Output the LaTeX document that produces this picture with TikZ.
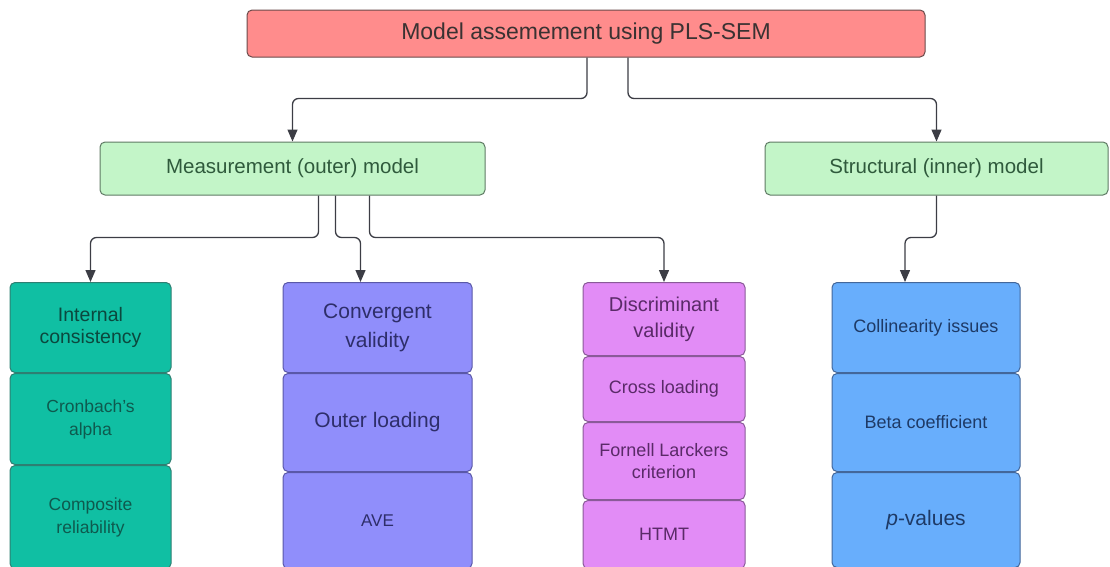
\documentclass[tikz,border=0pt]{standalone}
\usepackage{fontspec}
\setmainfont{Liberation Sans}
\usepackage{xcolor}
\usetikzlibrary{arrows.meta,positioning}

\definecolor{linegray}{HTML}{3C3D45}
\definecolor{topfill}{HTML}{FF8C8C}
\definecolor{topdraw}{HTML}{6A4A4A}
\definecolor{toptext}{HTML}{3A3232}
\definecolor{grnfill}{HTML}{C3F5C8}
\definecolor{grndraw}{HTML}{5F7A64}
\definecolor{grntext}{HTML}{2F5A3C}
\definecolor{tealfill}{HTML}{10BFA3}
\definecolor{tealdraw}{HTML}{2E7F72}
\definecolor{tealtext}{HTML}{0E5A4E}
\definecolor{purpfill}{HTML}{908EFB}
\definecolor{purpdraw}{HTML}{5A58A8}
\definecolor{purptext}{HTML}{2E2E6A}
\definecolor{pinkfill}{HTML}{E28CF6}
\definecolor{pinkdraw}{HTML}{8A5A98}
\definecolor{pinktext}{HTML}{5A2A68}
\definecolor{bluefill}{HTML}{68AEFC}
\definecolor{bluedraw}{HTML}{43679A}
\definecolor{bluetext}{HTML}{1E3A66}

\begin{document}
\begin{tikzpicture}[x=1pt,y=-1pt,
	link/.style={-{Triangle[length=12pt,width=10pt]},line width=1.3pt,draw=linegray,rounded corners=6pt},
	box/.style={draw,rectangle,rounded corners=5pt,line width=1pt,align=center,inner sep=0pt},
	head/.style={box,fill=topfill,draw=topdraw,text=toptext,minimum width=678pt,minimum height=47pt,font=\fontsize{23}{27}\selectfont},
	part/.style={box,fill=grnfill,draw=grndraw,text=grntext,minimum height=53pt,font=\fontsize{20.5}{24}\selectfont},
	teal/.style={box,fill=tealfill,draw=tealdraw,text=tealtext,minimum width=161pt},
	purp/.style={box,fill=purpfill,draw=purpdraw,text=purptext,minimum width=189pt},
	pink/.style={box,fill=pinkfill,draw=pinkdraw,text=pinktext,minimum width=162pt},
	blue/.style={box,fill=bluefill,draw=bluedraw,text=bluetext,minimum width=188pt}]

	\useasboundingbox (0,0) rectangle (1110,566);

	\node[head]				(top)	at (586,33.5)		{Model assemement using PLS-SEM};
	\node[part,minimum width=385pt]	(meas)	at (292.5,168.5)	{Measurement (outer) model};
	\node[part,minimum width=343pt]	(struc)	at (936.5,168.5)	{Structural (inner) model};

	% internal consistency
	\node[teal,minimum height=90pt,anchor=north,text=tealtext!80!black,font=\fontsize{19.5}{22}\selectfont]	(intc)	at (90.5,282)	{Internal\\consistency};
	\node[teal,minimum height=91pt,font=\fontsize{17.5}{23}\selectfont]	(cron)	[below=0pt of intc]	{Cronbach's\\alpha};
	\node[teal,minimum height=103pt,font=\fontsize{17.5}{23}\selectfont]	(comp)	[below=0pt of cron]	{Composite\\reliability};

	% convergent validity
	\node[purp,minimum height=90pt,anchor=north,font=\fontsize{21}{29}\selectfont]	(conv)	at (377.5,282)	{Convergent\\validity};
	\node[purp,minimum height=98pt,font=\fontsize{21}{25}\selectfont]	(outl)	[below=0pt of conv]	{Outer loading};
	\node[purp,minimum height=96pt,font=\fontsize{17}{20}\selectfont]	(ave)	[below=0pt of outl]	{AVE};

	% discriminant validity
	\node[pink,minimum height=73pt,anchor=north,font=\fontsize{20}{26}\selectfont]	(disc)	at (664,282)	{Discriminant\\validity};
	\node[pink,minimum height=65pt,font=\fontsize{18}{22}\selectfont]	(cross)	[below=0pt of disc]	{Cross loading};
	\node[pink,minimum height=77pt,font=\fontsize{18}{22}\selectfont]	(forn)	[below=0pt of cross]	{Fornell Larckers\\criterion};
	\node[pink,minimum height=68pt,font=\fontsize{18}{22}\selectfont]	(htmt)	[below=0pt of forn]	{HTMT};

	% structural
	\node[blue,minimum height=90pt,anchor=north,font=\fontsize{18}{22}\selectfont]	(coll)	at (926,282)	{Collinearity issues};
	\node[blue,minimum height=98pt,font=\fontsize{18}{22}\selectfont]	(beta)	[below=0pt of coll]	{Beta coefficient};
	\node[blue,minimum height=95pt,font=\fontsize{21}{25}\selectfont]	(pval)	[below=0pt of beta]	{\textit{p}-values};

	\draw[link] ([xshift=1pt]top.south) -- ++(0,41) -| (meas.north);
	\draw[link] ([xshift=42pt]top.south) -- ++(0,41) -| (struc.north);
	\draw[link] ([xshift=26pt]meas.south) -- ++(0,42) -| (intc.north);
	\draw[link] ([xshift=43pt]meas.south) -- ++(0,42) -| ([xshift=-17pt]conv.north);
	\draw[link] ([xshift=77pt]meas.south) -- ++(0,42) -| (disc.north);
	\draw[link] (struc.south) -- ++(0,42) -| ([xshift=-21pt]coll.north);
\end{tikzpicture}
\end{document}
